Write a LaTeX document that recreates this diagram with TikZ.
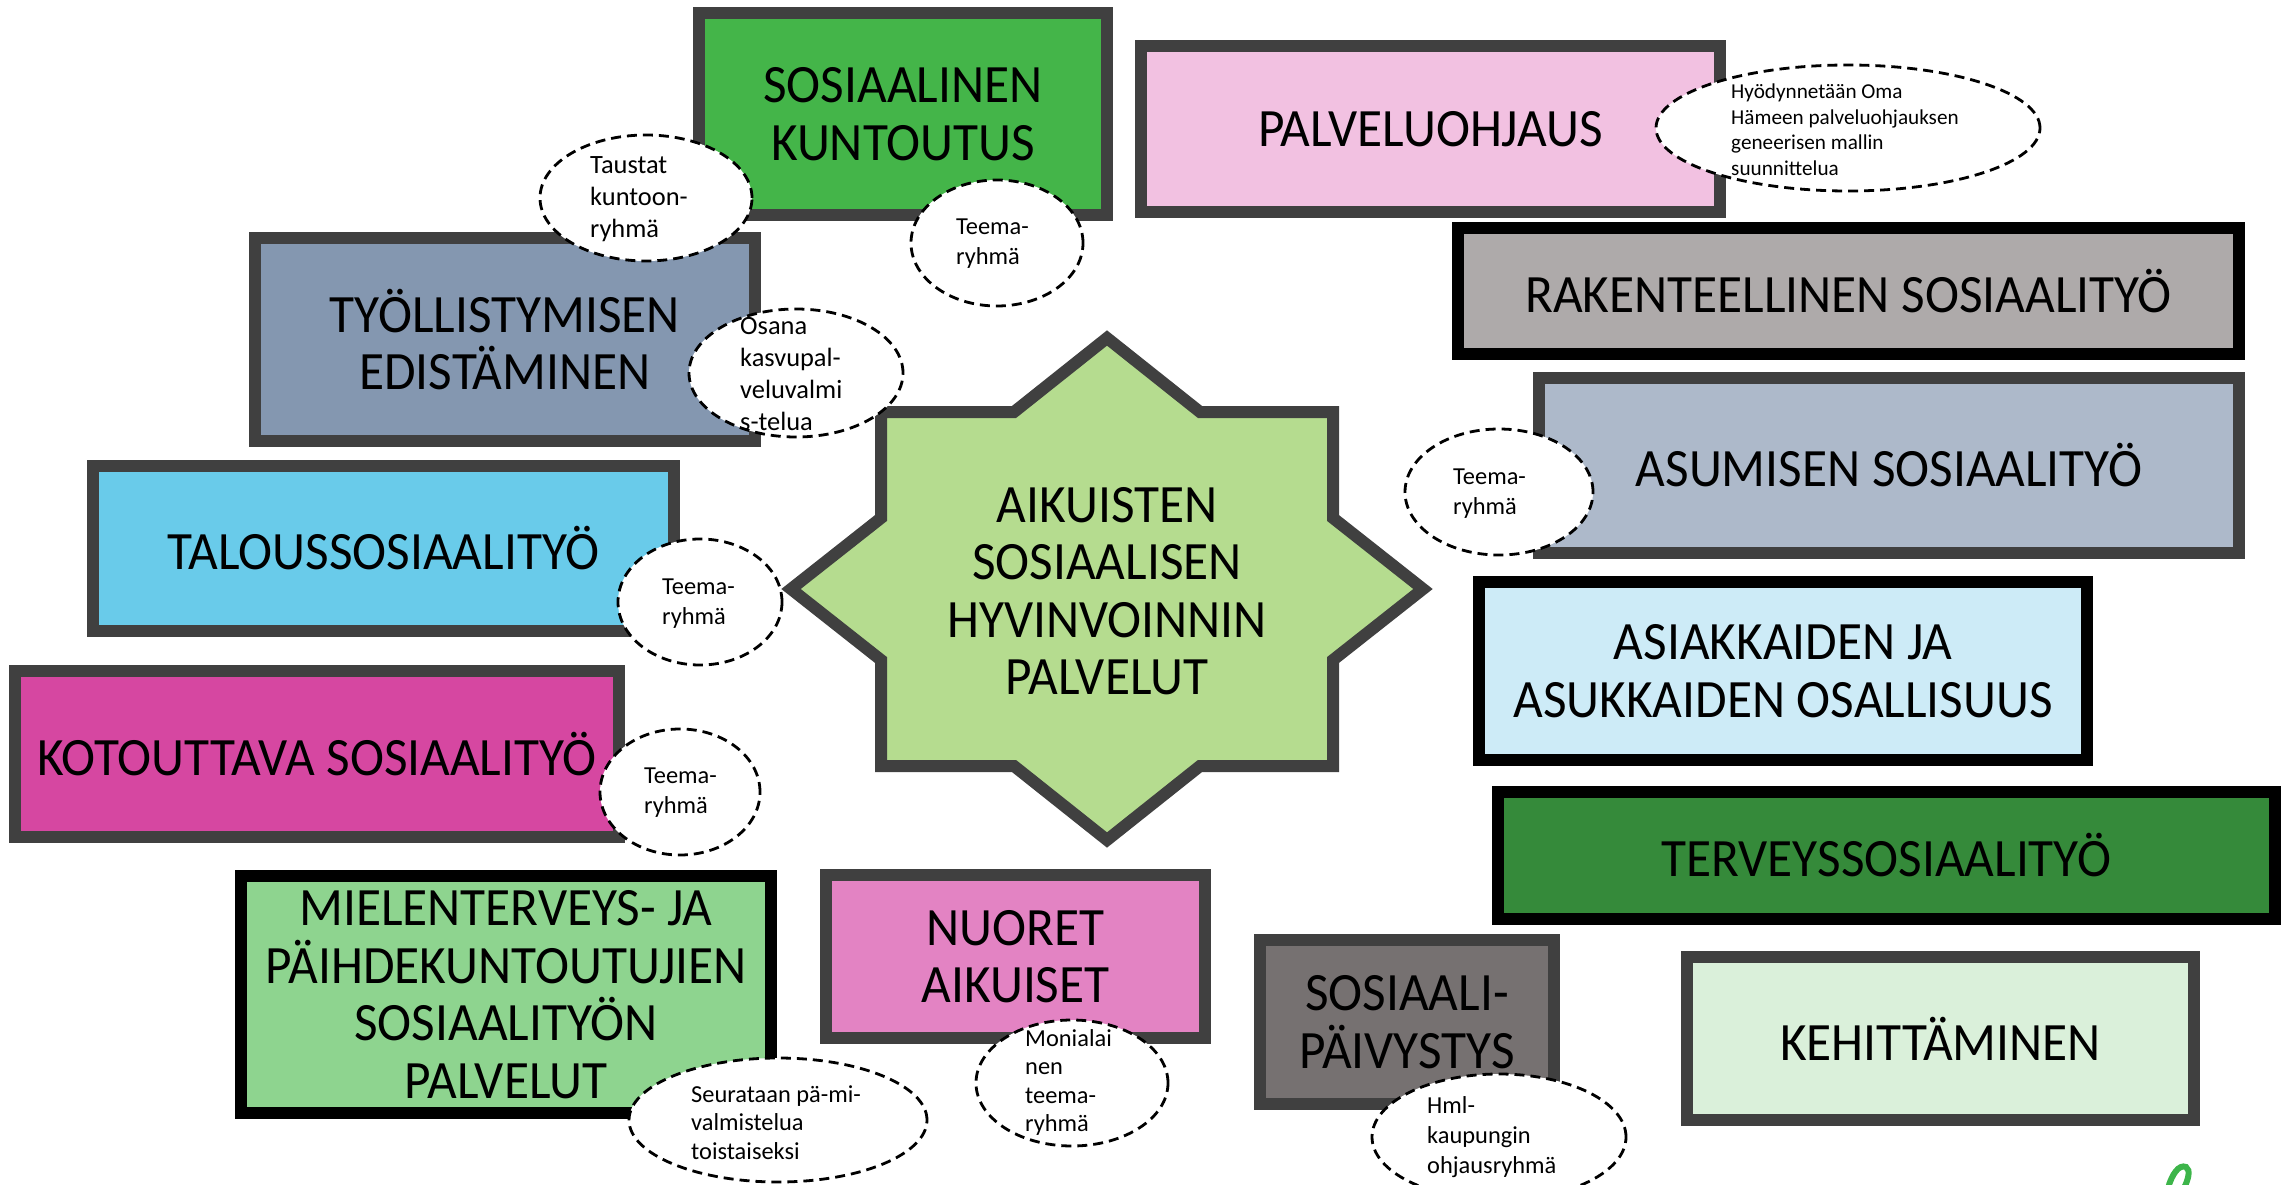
\documentclass[tikz,border=0pt]{standalone}
\usepackage{fontspec}
\setmainfont[FakeStretch=0.95]{Carlito}
\newfontfamily\smfam{Carlito}
\usetikzlibrary{shapes.geometric}
\definecolor{dk}{HTML}{404040}
\definecolor{ckunt}{HTML}{44B549}
\definecolor{cpalv}{HTML}{F2C1E1}
\definecolor{crak}{HTML}{AEAAAA}
\definecolor{ctyo}{HTML}{8497B0}
\definecolor{casu}{HTML}{ADB9CA}
\definecolor{ctal}{HTML}{69CBEA}
\definecolor{casi}{HTML}{CDEBF7}
\definecolor{ckot}{HTML}{D647A1}
\definecolor{cter}{HTML}{358A3A}
\definecolor{cmie}{HTML}{8ED48F}
\definecolor{cnuo}{HTML}{E383C3}
\definecolor{cspv}{HTML}{767171}
\definecolor{ckeh}{HTML}{DAF0DA}
\definecolor{cstar}{HTML}{B5DC8F}
\definecolor{clogo}{HTML}{3DB54A}
\newcommand\bigfnt{\fontsize{54}{57.5}\selectfont}
\newcommand\smallfnt{\smfam\fontsize{24.4}{30}\selectfont}
\newcommand\largesmfnt{\smfam\fontsize{26.4}{32}\selectfont}
\newcommand\tinyfnt{\smfam\fontsize{21.2}{25.5}\selectfont}
\begin{document}
\begin{tikzpicture}[x=1pt,y=-1pt,
  box/.style={rectangle, draw=dk, line width=12pt, inner sep=0pt, align=center, font=\bigfnt, text=black},
  blackbox/.style={box, draw=black},
  bubble/.style={ellipse, draw=black, fill=white, line width=2.8pt, dash pattern=on 10pt off 6pt, inner sep=0pt},
  btext/.style={anchor=west, inner sep=0pt, align=left, font=\smallfnt, text=black},
  startext/.style={inner sep=0pt, align=center, font=\bigfnt, text=black},
  starshape/.style={draw=dk, fill=cstar, line width=12pt, miter limit=10}]
\useasboundingbox (0,0) rectangle (2281,1185);

% boxes
\node[box, fill=ckunt, minimum width=408pt, minimum height=202pt] (kunt) at (903,114) {SOSIAALINEN\\KUNTOUTUS};
\node[box, fill=cpalv, minimum width=579pt, minimum height=166pt] (palv) at (1430.5,129) {PALVELUOHJAUS};
\node[blackbox, fill=crak, minimum width=781pt, minimum height=126pt] (rak) at (1848.5,291) {RAKENTEELLINEN SOSIAALITYÖ};
\node[box, fill=ctyo, minimum width=500pt, minimum height=203pt] (tyo) at (505,339.5) {TYÖLLISTYMISEN\\EDISTÄMINEN};
\node[box, fill=casu, minimum width=700pt, minimum height=175pt] (asu) at (1889,465.5) {ASUMISEN SOSIAALITYÖ};
\node[box, fill=ctal, minimum width=581pt, minimum height=165pt] (tal) at (383.5,548.5) {TALOUSSOSIAALITYÖ};
\node[blackbox, fill=casi, minimum width=608pt, minimum height=178pt] (asi) at (1783,671) {ASIAKKAIDEN JA\\ASUKKAIDEN OSALLISUUS};
\node[box, fill=ckot, minimum width=604pt, minimum height=166pt] (kot) at (317,754) {KOTOUTTAVA SOSIAALITYÖ};
\node[blackbox, fill=cter, minimum width=777pt, minimum height=127pt] (ter) at (1886.5,855.5) {TERVEYSSOSIAALITYÖ};
\node[blackbox, fill=cmie, minimum width=530pt, minimum height=237pt] (mie) at (506,994.5) {MIELENTERVEYS- JA\\PÄIHDEKUNTOUTUJIEN\\SOSIAALITYÖN\\PALVELUT};
\node[box, fill=cnuo, minimum width=379pt, minimum height=163pt] (nuo) at (1015.5,956.5) {NUORET\\AIKUISET};
\node[box, fill=cspv, minimum width=294pt, minimum height=164pt] (spv) at (1407,1022) {SOSIAALI-\\PÄIVYSTYS};
\node[box, fill=ckeh, minimum width=507pt, minimum height=163pt] (keh) at (1940.5,1038.5) {KEHITTÄMINEN};

% central star
\coordinate (sc) at (1107,589);
\begin{scope}[shift={(sc)}]
\draw[starshape] (0,-251) -- (93,-177) -- (226,-177) -- (226,-71) -- (316,0) -- (226,71) -- (226,177) -- (93,177)
  -- (0,251) -- (-93,177) -- (-226,177) -- (-226,71) -- (-316,0) -- (-226,-71) -- (-226,-177) -- (-93,-177) -- cycle;
\end{scope}
\node[startext] (star) at (1107,591) {AIKUISTEN\\SOSIAALISEN\\HYVINVOINNIN\\PALVELUT};

% bubbles
\node[bubble, minimum width=212pt, minimum height=126pt] (b1) at (646,198) {};
\node[btext, font=\largesmfnt] (t1) at (590,199) {Taustat\\kuntoon-\\ryhmä};
\node[bubble, minimum width=172pt, minimum height=126pt] (b2) at (997,243) {};
\node[btext] (t2) at (956,243.5) {Teema-\\ryhmä};
\node[bubble, minimum width=214pt, minimum height=128pt] (b3) at (796,373) {};
\node[btext, font=\largesmfnt] (t3) at (740,374.5) {Osana\\kasvupal-\\veluvalmi\\s-telua};
\node[bubble, minimum width=384pt, minimum height=126pt] (b4) at (1848,128) {};
\node[btext, font=\tinyfnt] (t4) at (1731,129.5) {Hyödynnetään Oma\\Hämeen palveluohjauksen\\geneerisen mallin\\suunnittelua};
\node[bubble, minimum width=188pt, minimum height=126pt] (b5) at (1499,492) {};
\node[btext] (t5) at (1453,493.5) {Teema-\\ryhmä};
\node[bubble, minimum width=164pt, minimum height=126pt] (b6) at (700,602) {};
\node[btext] (t6) at (662,604) {Teema-\\ryhmä};
\node[bubble, minimum width=160pt, minimum height=126pt] (b7) at (680,792) {};
\node[btext] (t7) at (644,792.5) {Teema-\\ryhmä};
\node[bubble, minimum width=298pt, minimum height=124pt] (b8) at (778,1120) {};
\node[btext, font=\smfam\fontsize{24.4}{28.5}\selectfont] (t8) at (691,1122.5) {Seurataan pä-mi-\\valmistelua\\toistaiseksi};
\node[bubble, minimum width=192pt, minimum height=126pt] (b9) at (1072,1083) {};
\node[btext, font=\smfam\fontsize{24.4}{28.5}\selectfont] (t9) at (1025,1082.5) {Monialai\\nen\\teema-\\ryhmä};
\node[bubble, minimum width=254pt, minimum height=126pt] (b10) at (1499,1137) {};
\node[btext] (t10) at (1427,1137) {Hml-\\kaupungin\\ohjausryhmä};

% partial logo stroke
\draw[clogo, line width=6pt, line cap=round] (2168,1188) .. controls (2172,1174) and (2179,1164) .. (2186,1167) .. controls (2191,1170) and (2188,1180) .. (2184,1188);
\end{tikzpicture}
\end{document}
